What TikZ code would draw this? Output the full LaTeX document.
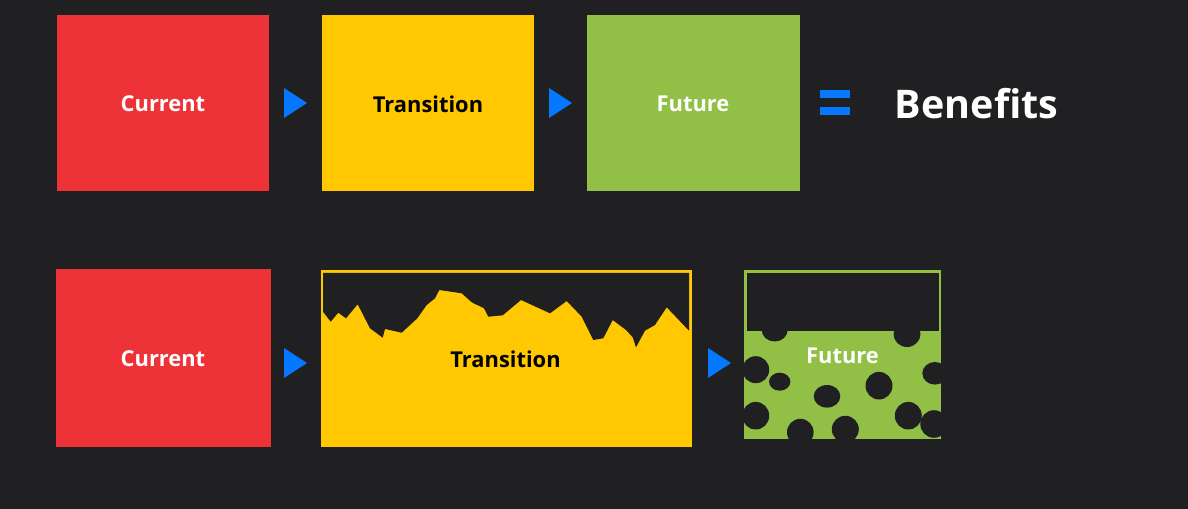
\documentclass[tikz,border=0pt]{standalone}
\usepackage{fontspec}
\setmainfont{Open Sans}
\definecolor{bg}{HTML}{202023}
\definecolor{cred}{HTML}{EE3338}
\definecolor{cyel}{HTML}{FFC800}
\definecolor{cgrn}{HTML}{92C046}
\definecolor{cblu}{HTML}{0578FF}
\tikzset{x=0.75pt,y=-0.75pt,
 lab/.style={font=\bfseries\fontsize{16.4}{19}\selectfont},
 tri/.style={fill=cblu,draw=none},
 hole/.style={fill=bg,draw=none}}
\newcommand{\playtri}[2]{\fill[tri] (#1,#2-15) -- (#1+23,#2) -- (#1,#2+15) -- cycle;}
\begin{document}
\begin{tikzpicture}
\useasboundingbox (0,0) rectangle (1188,509);
\fill[bg] (0,0) rectangle (1188,509);
% top row
\fill[cred] (57,15) rectangle (269,191);
\fill[cyel] (322,15) rectangle (534,191);
\fill[cgrn] (587,15) rectangle (800,191);
\node[lab,text=white] (t1) at (163,104) {Current};
\node[lab,text=black] (t2) at (428,104) {Transition};
\node[lab,text=white] (t3) at (693,104) {Future};
\playtri{284}{103}
\playtri{549}{103}
\fill[cblu] (820,90) rectangle (850,98);
\fill[cblu] (820,107) rectangle (850,115);
\node[text=white,font=\bfseries\fontsize{29.6}{36}\selectfont] (ben) at (976.5,104) {Benefits};
% bottom row
\fill[cred] (56,269) rectangle (271,447);
\node[lab,text=white] (t4) at (163,359) {Current};
\playtri{284}{363}
% transition
\fill[cyel] (320.5,270) rectangle (692,447);
\fill[hole] (323,273) -- (689,273) -- (689,330.7)
 -- (666.7,307.3) -- (655,325) -- (645,330.7) -- (636,347.3) -- (632.7,337.3) -- (626,330)
 -- (612.7,320) -- (603.3,338.3) -- (593.3,340) -- (581.7,316.7) -- (566.7,301) -- (550,313.3)
 -- (521,300) -- (502.7,315.3) -- (488.3,316.7) -- (484,308.3) -- (471.7,302.3) -- (461.7,293.3)
 -- (439.3,290) -- (435,298.3) -- (426.7,305) -- (417.3,318.3) -- (401.7,332.7) -- (385,329)
 -- (382.7,337.7) -- (370,328.3) -- (357.7,304.3) -- (346,318.3) -- (338.3,312.7)
 -- (330.7,321.7) -- (323,311.7) -- cycle;
\node[lab,text=black] (t5) at (505.5,359) {Transition};
\playtri{708}{363}
% future
\fill[cgrn] (744,270) rectangle (941,439);
\fill[hole] (747,273) rectangle (939,331);
\foreach \cx/\cy/\rx/\ry in {774.7/330/13/11.5,907/334/13.5/13,755.7/369.7/13.5/13.5,779.7/381.7/10.7/9,
 827/396.3/13.3/11.3,879/385.7/13.5/13.8,935/373.3/12.7/11.3,755.7/415.7/13.5/13.8,800.3/432.3/13.3/13.5,
 845.3/429.3/13.5/13.5,908.3/415.7/13.5/13.8,934/424/13.7/13.8}
 \fill[hole] (\cx,\cy) ellipse [x radius=\rx*0.75pt,y radius=\ry*0.75pt];
\node[lab,text=white] (t6) at (842.5,356) {Future};
\end{tikzpicture}
\end{document}
